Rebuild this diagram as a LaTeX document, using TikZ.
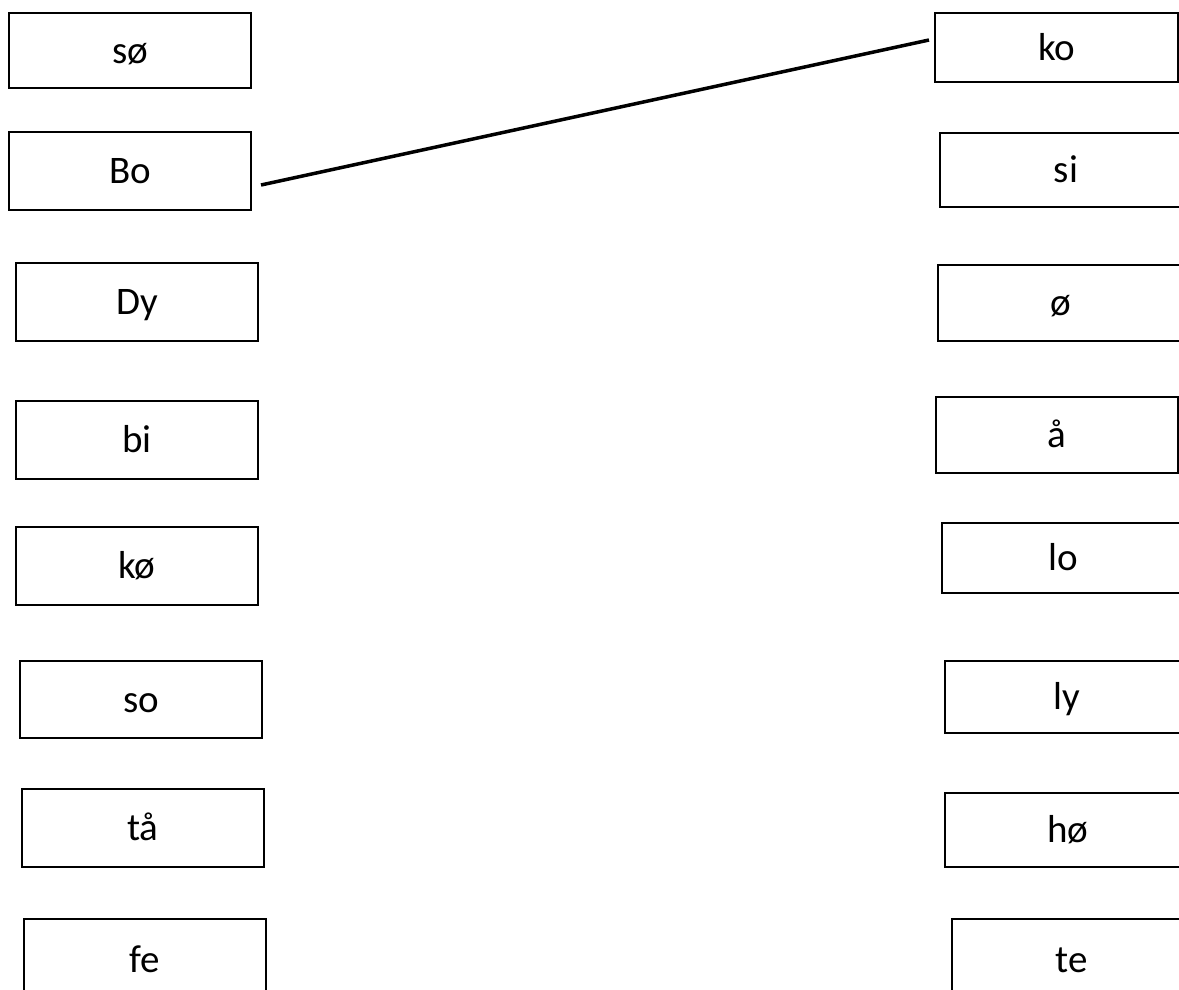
\documentclass[tikz,border=0pt]{standalone}
\usepackage{fontspec}
\setmainfont{Carlito}
\usetikzlibrary{positioning}
\tikzset{wordbox/.style={draw, line width=2pt, inner sep=0pt,
    minimum width=242pt, minimum height=77pt,
    text height=25pt, text depth=0pt,
    font=\fontsize{39}{46}\selectfont},
  matchline/.style={line width=3.5pt}}

\begin{document}
\begin{tikzpicture}[x=1pt, y=-1pt]
    \clip (0,0) rectangle (1179,989);
    % left column
    \node[wordbox, minimum height=75pt] (so1) at (130,50.5) {sø};
    \node[wordbox, minimum height=78pt] (bo) at (130,171) {Bo};
    \node[wordbox, minimum height=78pt] (dy) at (137,302) {Dy};
    \node[wordbox, minimum height=78pt] (bi) at (137,440) {bi};
    \node[wordbox, minimum height=78pt] (koe) at (137,566) {kø};
    \node[wordbox] (so2) at (141,699.5) {so};
    \node[wordbox, minimum height=78pt] (taa) at (143,828) {tå};
    \node[wordbox, minimum height=82pt] (fe) at (145,960) {fe};
    % right column
    \node[wordbox, minimum width=243pt, minimum height=69pt] (ko) at (1056.5,47.5) {ko};
    \node[wordbox, minimum width=252pt, minimum height=74pt] (si) at (1066,170) {si};
    \node[wordbox, minimum width=246pt, minimum height=76pt] (oe) at (1061,303) {ø};
    \node[wordbox, minimum height=76pt] (aa) at (1057,435) {å};
    \node[wordbox, minimum width=242pt, minimum height=70pt] (lo) at (1063,558) {lo};
    \node[wordbox, minimum width=244pt, minimum height=72pt] (ly) at (1067,697) {ly};
    \node[wordbox, minimum width=246pt, minimum height=74pt] (hoe) at (1068,830) {hø};
    \node[wordbox, minimum width=240pt, minimum height=82pt] (te) at (1072,960) {te};
    % the one match
    \draw[matchline] ([shift={(9pt,-14pt)}]bo.east) -- ([shift={(-5pt,7.5pt)}]ko.west);
\end{tikzpicture}
\end{document}
